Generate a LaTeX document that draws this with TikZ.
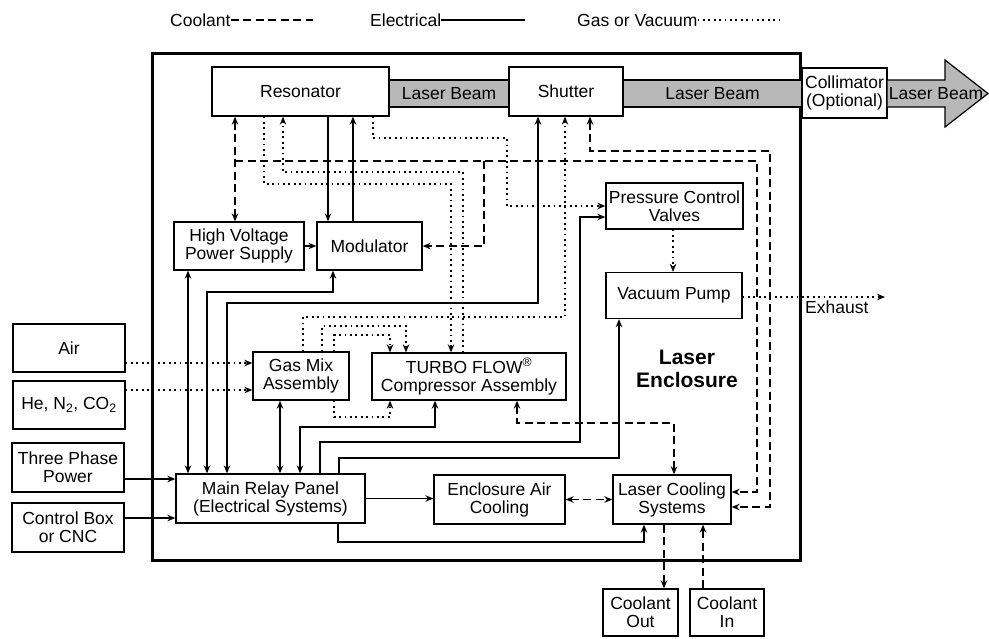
\documentclass[tikz,border=0pt]{standalone}
\usepackage{fontspec}
\setmainfont{Liberation Sans}
\usetikzlibrary{arrows.meta}

\begin{document}
\begin{tikzpicture}[x=1pt,y=-1pt,font=\fontsize{17.5}{18}\selectfont,
      >={Stealth[length=8pt,width=6.5pt]},
      bx/.style 2 args={draw,line width=1.3pt,fill=white,inner sep=1pt,align=center,minimum width=#1pt,minimum height=#2pt},
      bm/.style={draw,line width=1.2pt,fill=black!28,inner sep=0pt,minimum height=27pt},
      el/.style={line width=1.4pt},
      cl/.style={line width=1.4pt,dash pattern=on 8pt off 4.5pt},
      gv/.style={line width=1.8pt,dash pattern=on 1.8pt off 3.6pt}]
      \useasboundingbox (0,0) rectangle (989,638);
      \node[anchor=west,inner sep=0pt] (lgc) at (170,20) {Coolant};
      \node[anchor=west,inner sep=0pt] (lge) at (370,20) {Electrical};
      \node[anchor=west,inner sep=0pt] (lgg) at (577,20) {Gas or Vacuum};
      \coordinate (lgc2) at (313,20); \coordinate (lge2) at (525,20); \coordinate (lgg2) at (779,20);
      \draw[cl] (lgc.east) -- (lgc2); \draw[el] (lge.east) -- (lge2); \draw[gv] (lgg.east) -- (lgg2);
      \draw[line width=3pt] (152,53) rectangle (800,560);
      \node[bm,minimum width=120pt] (beam1) at (449,93.5) {Laser Beam};
      \node[bm,minimum width=179pt] (beam2) at (712.5,93.5) {Laser Beam};
      \node[bx={177}{49}] (res) at (300.5,91.5) {Resonator};
      \node[bx={114}{49}] (shut) at (566,91.5) {Shutter};
      \node[bx={85}{50}] (coll) at (844.5,93) {Collimator\\(Optional)};
      \draw[line width=1.2pt,fill=black!28] (coll.east |- 0,80) -- (945,80) -- (945,60) -- (988,93.5) -- (945,127) -- (945,107) -- (coll.east |- 0,107);
      \node (beam3) at (936,93.5) {Laser Beam};
      \node[bx={130}{48}] (hv) at (239,246) {High Voltage\\Power Supply};
      \node[bx={105}{48}] (mod) at (369.5,246) {Modulator};
      \node[bx={137}{46}] (pcv) at (674.5,206) {Pressure Control\\Valves};
      \node[bx={136}{46}] (vac) at (674,295.5) {Vacuum Pump};
      \node[bx={112}{48}] (air) at (69,348) {Air};
      \node[bx={112}{48}] (he) at (69,405) {He, N\textsubscript{2}, CO\textsubscript{2}};
      \node[bx={112}{49}] (three) at (68,467.5) {Three Phase\\Power};
      \node[bx={112}{49}] (ctrl) at (68,527.5) {Control Box\\or CNC};
      \node[bx={96}{48}] (gas) at (301,376) {Gas Mix\\Assembly};
      \node[bx={194}{47}] (turbo) at (469,376.5) {TURBO FLOW\textsuperscript{®}\\Compressor Assembly};
      \node[bx={189}{49}] (relay) at (270.5,498.5) {Main Relay Panel\\(Electrical Systems)};
      \node[bx={131}{49}] (eac) at (499.5,499.5) {Enclosure Air\\Cooling};
      \node[bx={118}{49}] (lcs) at (672,499.5) {Laser Cooling\\Systems};
      \node[bx={75}{47}] (cout) at (640.5,612.5) {Coolant\\Out};
      \node[bx={74}{47}] (cin) at (727,612.5) {Coolant\\In};
      \node[font=\fontsize{21}{23}\selectfont\bfseries,align=center] (encl) at (687,369) {Laser\\Enclosure};
      \node[anchor=west,inner sep=0pt] (exh) at (805,307) {Exhaust};
      \draw[el,->] (res.south -| 328,0) -- (mod.north -| 328,0);
      \draw[el,->] (mod.north -| 353,0) -- (res.south -| 353,0);
      \draw[el,->] (hv) -- (mod);
      \draw[el,<->] (relay.north -| 188,0) -- (hv.south -| 188,0);
      \draw[el,<->] (relay.north -| 207,0) |- (333,292) -- (mod.south -| 333,0);
      \draw[el,<->] (relay.north -| 227,0) |- (538,303) -- (shut.south -| 538,0);
      \draw[el,<->] (relay.north -| 280,0) -- (gas.south -| 280,0);
      \draw[el,<->] (relay.north -| 300,0) |- (435,427) -- (turbo.south -| 435,0);
      \draw[el,->] (relay.north -| 320,0) |- (580,442) |- (pcv.west |- 0,217);
      \draw[el,->] (relay.north -| 339,0) |- (619,458) -- (vac.south -| 619,0);
      \draw[el,->] (relay.east) -- (relay.east -| eac.west);
      \draw[el,->] (relay.south -| 338,0) |- (644,542) -- (lcs.south -| 644,0);
      \draw[el,->] (three.east |- 0,479) -- (relay.west |- 0,479);
      \draw[el,->] (ctrl.east |- 0,518) -- (relay.west |- 0,518);
      \coordinate (cj) at (235,161); \coordinate (cm) at (484,161);
      \draw[cl,<->] (res.south -| 235,0) -- (hv.north -| 235,0);
      \draw[cl,->] (cj) -- (757,161) |- ([yshift=7.5pt]lcs.east);
      \draw[cl,->] (cm) |- (mod);
      \draw[cl,<->] (shut.south -| 590,0) |- (770,151) |- ([yshift=-7.5pt]lcs.east);
      \draw[cl,<->] (eac) -- (lcs);
      \draw[cl,<->] (turbo.south -| 517,0) |- (674,423) -- (lcs.north -| 674,0);
      \draw[cl,->] (lcs.south -| 664,0) -- (cout.north -| 664,0);
      \draw[cl,->] (cin.north -| 703,0) -- (lcs.south -| 703,0);
      \draw[gv,->] (res.south -| 264,0) |- (451,184) -- (turbo.north -| 451,0);
      \draw[gv,->] (turbo.north -| 463,0) |- (283,172) -- (res.south -| 283,0);
      \draw[gv,->] (res.south -| 373,0) |- (507,138) |- (pcv);
      \draw[gv,->] (gas.north -| 303,0) |- (565,317) -- (shut.south -| 565,0);
      \draw[gv,->] (gas.north -| 322,0) |- (406,326) -- (turbo.north -| 406,0);
      \draw[gv,->] (gas.north -| 334,0) |- (390,335) -- (turbo.north -| 390,0);
      \draw[gv,->] (gas.south -| 334,0) |- (390,417) -- (turbo.south -| 390,0);
      \draw[gv,->] (air.east |- 0,363) -- (gas.west |- 0,363);
      \draw[gv,->] (he.east |- 0,390) -- (gas.west |- 0,390);
      \draw[gv,->] (pcv.south -| 673,0) -- (vac.north -| 673,0);
      \coordinate (exend) at (885,297);
      \draw[gv,->] (vac.east |- 0,297) -- (exend);
    \end{tikzpicture}
\end{document}
